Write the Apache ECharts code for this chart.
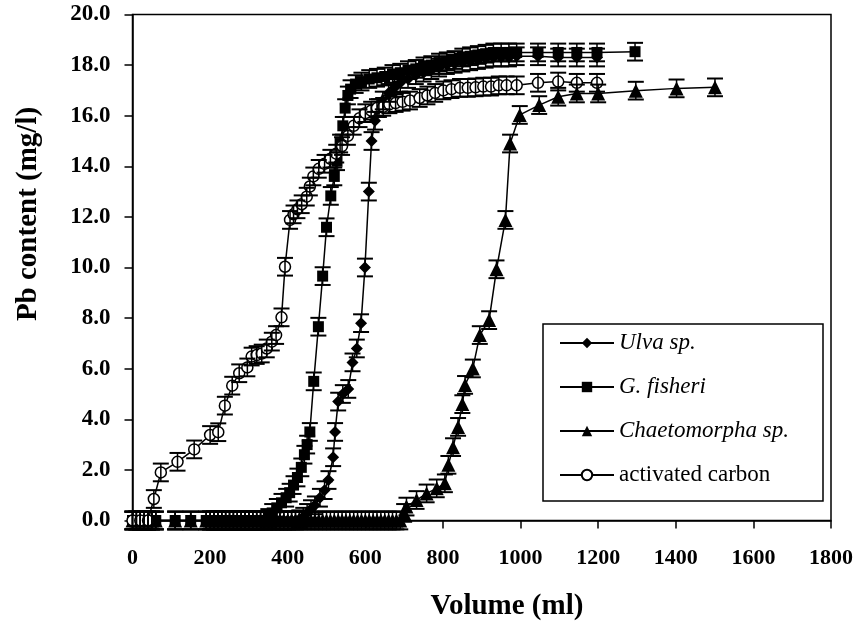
<!DOCTYPE html>
<html>
<head>
<meta charset="utf-8">
<script src="https://cdn.jsdelivr.net/npm/echarts@6/dist/echarts.min.js"></script>
<style>
  html, body { margin: 0; padding: 0; background: #fff; }
  #chart { width: 861px; height: 627px; }
</style>
</head>
<body>
<div id="chart"></div>
<script>
// Breakthrough curves: Pb content of the effluent (mg/l) against volume passed (ml)
const seriesNames = ['Ulva sp.', 'G. fisheri', 'Chaetomorpha sp.', 'activated carbon'];
const italicNames = ['Ulva sp.', 'G. fisheri', 'Chaetomorpha sp.'];

const xTicks = [0, 200, 400, 600, 800, 1000, 1200, 1400, 1600, 1800];
const yTicks = [0, 2, 4, 6, 8, 10, 12, 14, 16, 18, 20];

// standard deviation shown on every point (mg/l)
const ERR = 0.35;

// [volume (ml), Pb (mg/l)]
const ulva = [
  [0,0],[10,0],[20,0],[30,0],[40,0],[50,0],[60,0],[110,0],[150,0],[190,0],[200,0],[210,0],
  [220,0],[230,0],[240,0],[250,0],[260,0],[270,0],[280,0],[290,0],[300,0],[310,0],[320,0],
  [330,0],[340,0],[350,0],[360,0],[370,0],[380,0],[390,0],[400,0],[410,0],[420,0],
  [430,0.05],[440,0.15],[450,0.3],[460,0.45],[470,0.6],[483,0.9],[495,1.2],[505,1.6],
  [517,2.5],[522,3.5],[530,4.7],[542,5.0],[556,5.2],[567,6.25],[578,6.8],[589,7.8],
  [599,10.0],[609,13.0],[616,15.0],[625,15.8],[635,16.3],[645,16.6],[660,16.9],[675,17.1],
  [690,17.3],[710,17.45],[730,17.6],[750,17.7],[770,17.8],[790,17.9],[810,18.0],[830,18.05],
  [850,18.1],[870,18.15],[890,18.2],[910,18.25],[930,18.3],[950,18.3],[970,18.3],[990,18.35],
  [1045,18.35],[1097,18.3],[1145,18.3],[1197,18.3]
];

const fisheri = [
  [0,0],[10,0],[20,0],[30,0],[40,0],[50,0],[60,0],[110,0],[150,0],[190,0],[200,0],[210,0],
  [220,0],[230,0],[240,0],[250,0],[260,0],[270,0],[280,0],[290,0],[300,0],[310,0],[320,0],
  [330,0],[340,0],
  [350,0.1],[360,0.3],[372,0.5],[384,0.7],[396,0.9],[405,1.1],[415,1.4],[425,1.7],
  [435,2.1],[443,2.6],[450,3.0],[457,3.5],[467,5.5],[479,7.66],[490,9.66],[500,11.59],
  [511,12.83],[520,13.6],[527,14.2],[535,14.9],[542,15.6],[548,16.3],[555,16.8],[562,17.05],
  [575,17.25],[590,17.35],[610,17.45],[630,17.5],[650,17.55],[670,17.65],[690,17.7],
  [710,17.8],[730,17.85],[750,17.95],[770,18.0],[790,18.1],[810,18.15],[830,18.2],
  [850,18.3],[870,18.35],[890,18.4],[910,18.45],[930,18.5],[950,18.5],[970,18.5],[990,18.5],
  [1045,18.5],[1097,18.5],[1145,18.5],[1197,18.5],[1295,18.53]
];

const chaetomorpha = [
  [0,0],[10,0],[20,0],[30,0],[40,0],[50,0],[60,0],[110,0],[150,0],[190,0],[200,0],[210,0],
  [220,0],[230,0],[240,0],[250,0],[260,0],[270,0],[280,0],[290,0],[300,0],[310,0],[320,0],
  [330,0],[340,0],[350,0],[360,0],[370,0],[380,0],[390,0],[400,0],[410,0],[420,0],[430,0],
  [440,0],[450,0],[460,0],[470,0],[480,0],[490,0],[500,0],[510,0],[520,0],[530,0],[540,0],
  [550,0],[560,0],[570,0],[580,0],[590,0],[600,0],[610,0],[620,0],[630,0],[640,0],[650,0],
  [660,0],[670,0],[680,0],[690,0],
  [700,0.3],[706,0.55],[732,0.81],[758,1.07],[784,1.27],[805,1.47],[814,2.2],[826,2.9],
  [839,3.7],[850,4.6],[857,5.36],[877,6.01],[895,7.33],[919,7.92],[938,9.93],[961,11.88],
  [973,14.9],[998,16.03],[1048,16.42],[1097,16.75],[1145,16.88],[1200,16.88],
  [1297,16.99],[1402,17.08],[1501,17.12]
];

const carbon = [
  [0,0],[20,0],[40,0],[55,0.85],[73,1.9],[116,2.32],[159,2.81],[200,3.38],[221,3.49],
  [238,4.54],[257,5.33],[275,5.82],[296,6.05],[307,6.48],[320,6.54],[333,6.6],[346,6.8],
  [359,7.07],[370,7.33],[384,8.03],[393,10.03],[406,11.88],[415,12.1],[425,12.3],
  [436,12.5],[449,12.8],[457,13.2],[466,13.6],[480,13.9],[495,14.1],[510,14.3],[525,14.5],
  [540,14.8],[555,15.2],[570,15.6],[585,15.9],[600,16.1],[615,16.2],[630,16.3],[646,16.35],
  [662,16.45],[678,16.5],[696,16.55],[715,16.6],[740,16.7],[760,16.8],[780,16.9],[801,17.0],
  [822,17.05],[844,17.1],[864,17.1],[884,17.12],[904,17.15],[924,17.15],[944,17.2],
  [964,17.2],[990,17.2],[1045,17.3],[1097,17.35],[1145,17.3],[1197,17.3]
];

const seriesData = [ulva, fisheri, chaetomorpha, carbon];
const symbols = ['diamond', 'rect', 'triangle', 'circle'];
const symbolSizes = [12, 11, 14, 11];

const serif = "'Liberation Serif', 'Times New Roman', serif";

// vertical error bar with caps, placed through the cartesian scales
function errorBar(params, api) {
  const x = api.value(0);
  const top = api.coord([x, api.value(2)]);
  const bot = api.coord([x, api.value(1)]);
  const hw = 8;
  return {
    type: 'group',
    children: [
      { type: 'line', shape: { x1: top[0], y1: top[1], x2: bot[0], y2: bot[1] }, style: { stroke: '#000', lineWidth: 1.5 } },
      { type: 'line', shape: { x1: top[0] - hw, y1: top[1], x2: top[0] + hw, y2: top[1] }, style: { stroke: '#000', lineWidth: 2 } },
      { type: 'line', shape: { x1: bot[0] - hw, y1: bot[1], x2: bot[0] + hw, y2: bot[1] }, style: { stroke: '#000', lineWidth: 2 } }
    ]
  };
}

const series = [];
seriesData.forEach((data, i) => {
  const hollow = symbols[i] === 'circle';
  series.push({
    name: seriesNames[i],
    type: 'line',
    data: data,
    symbol: symbols[i],
    symbolSize: symbolSizes[i],
    showAllSymbol: true,
    clip: false,
    lineStyle: { color: '#000', width: 1.5 },
    itemStyle: hollow
      ? { color: '#fff', borderColor: '#000', borderWidth: 1.5 }
      : { color: '#000', borderColor: '#000', borderWidth: 0 },
    z: 2
  });
  series.push({
    type: 'custom',
    renderItem: errorBar,
    data: data.map(p => [p[0], p[1] - ERR, p[1] + ERR]),
    encode: { x: 0, y: [1, 2] },
    silent: true,
    z: 3
  });
});

const richText = {
  it: { fontStyle: 'italic', fontFamily: serif, fontSize: 23, lineHeight: 24, color: '#000' },
  n: { fontFamily: serif, fontSize: 23, lineHeight: 24, color: '#000' }
};

const chart = echarts.init(document.getElementById('chart'), null, { renderer: 'canvas' });
chart.setOption({
  animation: false,
  backgroundColor: '#fff',
  grid: {
    left: 132.5, right: 30, top: 14.5, bottom: 106.5,
    show: true, borderColor: '#000', borderWidth: 1.5, backgroundColor: 'transparent'
  },
  xAxis: {
    type: 'value',
    min: xTicks[0], max: xTicks[xTicks.length - 1], interval: 200,
    axisLine: { show: true, onZero: false, lineStyle: { color: '#000', width: 1.5 } },
    axisTick: { show: true, length: 8, lineStyle: { color: '#000', width: 1.5 } },
    splitLine: { show: false },
    axisLabel: {
      margin: 27, color: '#000', fontFamily: serif, fontWeight: 'bold', fontSize: 22,
      formatter: v => String(v)
    }
  },
  yAxis: {
    type: 'value',
    min: yTicks[0], max: yTicks[yTicks.length - 1], interval: 2,
    axisLine: { show: true, onZero: false, lineStyle: { color: '#000', width: 1.5 } },
    axisTick: { show: true, length: 8, lineStyle: { color: '#000', width: 1.5 } },
    splitLine: { show: false },
    axisLabel: {
      margin: 22, color: '#000', fontFamily: serif, fontWeight: 'bold', fontSize: 23,
      formatter: v => v.toFixed(1)
    }
  },
  legend: {
    data: seriesNames,
    orient: 'vertical',
    left: 559, top: 331,
    padding: 0,
    itemWidth: 54, itemHeight: 13, itemGap: 20,
    selectedMode: false,
    textStyle: { color: '#000', fontFamily: serif, fontSize: 23, lineHeight: 24, rich: richText },
    formatter: name => italicNames.includes(name) ? '{it|' + name + '}' : '{n|' + name + '}'
  },
  graphic: [
    {
      type: 'rect', z: 0, silent: true,
      shape: { x: 543, y: 324, width: 280, height: 177 },
      style: { fill: '#fff', stroke: '#000', lineWidth: 1.5 }
    },
    {
      type: 'text', silent: true,
      style: {
        text: 'Volume (ml)', x: 507, y: 607, textAlign: 'center', textVerticalAlign: 'middle',
        font: "bold 29px 'Liberation Serif', 'Times New Roman', serif", fill: '#000'
      }
    },
    {
      type: 'text', silent: true, x: 29, y: 214, rotation: Math.PI / 2,
      style: {
        text: 'Pb content (mg/l)', x: 0, y: 0, textAlign: 'center', textVerticalAlign: 'middle',
        font: "bold 29px 'Liberation Serif', 'Times New Roman', serif", fill: '#000'
      }
    }
  ],
  series: series
});
</script>
</body>
</html>
